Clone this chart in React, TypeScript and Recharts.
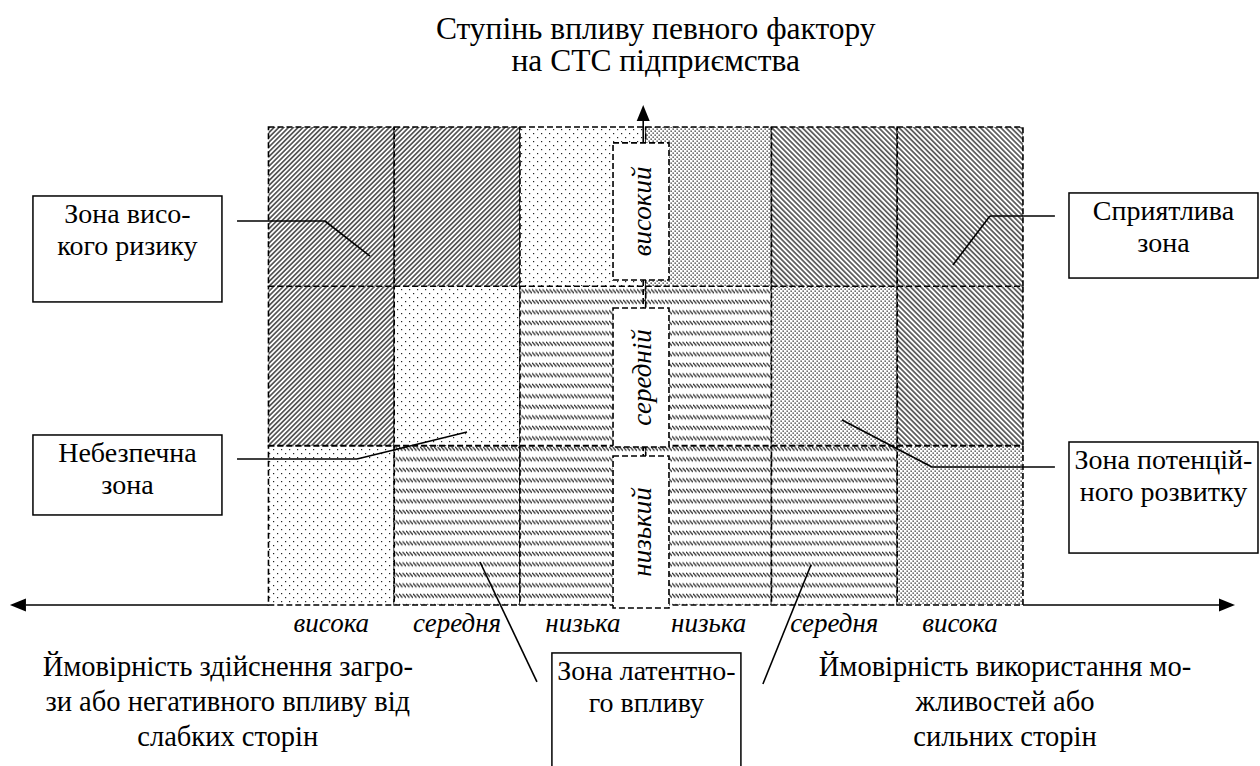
import React from "react";
import {
  ComposedChart,
  XAxis,
  YAxis,
  ReferenceArea,
  ReferenceLine,
  Scatter,
} from "recharts";

// Grid units: one column = 1 on x, one influence level = 1 on y.
const COLUMN_LABELS = ["висока", "середня", "низька", "низька", "середня", "висока"];
const LEVEL_LABELS = ["низький", "середній", "високий"]; // bottom -> top

const ZONE_ROW_LOW = ["danger", "latent", "latent", "latent", "latent", "potential"];
const ZONE_ROW_MID = ["risk", "danger", "latent", "latent", "potential", "favour"];
const ZONE_ROW_HIGH = ["risk", "risk", "danger", "potential", "favour", "favour"];
const ZONE_ROWS = [ZONE_ROW_LOW, ZONE_ROW_MID, ZONE_ROW_HIGH];

const RISK_TEXT = ["Зона висо-", "кого ризику"];
const DANGER_TEXT = ["Небезпечна", "зона"];
const FAVOUR_TEXT = ["Сприятлива", "зона"];
const POTENTIAL_TEXT = ["Зона потенцій-", "ного розвитку"];
const LATENT_TEXT = ["Зона латентно-", "го впливу"];

const TITLE_LINES = ["Ступінь впливу певного фактору", "на СТС підприємства"];
const LEFT_AXIS_TEXT = [
  "Ймовірність здійснення загро-",
  "зи або негативного впливу від",
  "слабких сторін",
];
const RIGHT_AXIS_TEXT = ["Ймовірність використання мо-", "жливостей або", "сильних сторін"];

const W = 1260;
const H = 766;
const X_DOMAIN: [number, number] = [-2.135, 7.885];
const Y_DOMAIN: [number, number] = [-1.0105, 3.797];
const FONT = "'Liberation Serif', 'Times New Roman', serif";

const FILL_OF: Record<string, string> = {
  risk: "url(#hatchFwd)",
  favour: "url(#hatchBack)",
  danger: "url(#dotsSparse)",
  potential: "url(#dotsDense)",
  latent: "url(#bands)",
};

type Pt = [number, number];

// callout boxes [x1, yTop, x2, yBottom] and their leader polylines
const CALLOUTS: { lines: string[]; box: [number, number, number, number]; leaders: Pt[][] }[] = [
  { lines: RISK_TEXT, box: [-1.873, 2.567, -0.37, 1.902], leaders: [[[-0.25, 2.41], [0.449, 2.41], [0.807, 2.19]]] },
  { lines: DANGER_TEXT, box: [-1.873, 1.067, -0.37, 0.565], leaders: [[[-0.25, 0.916], [0.704, 0.916], [1.579, 1.086]]] },
  { lines: FAVOUR_TEXT, box: [6.366, 2.586, 7.869, 2.052], leaders: [[[6.254, 2.441], [5.737, 2.441], [5.443, 2.134]]] },
  { lines: POTENTIAL_TEXT, box: [6.366, 1.023, 7.869, 0.326], leaders: [[[6.254, 0.866], [5.276, 0.866], [4.561, 1.161]]] },
  {
    lines: LATENT_TEXT,
    box: [2.254, -0.301, 3.757, -1.06],
    leaders: [
      [[1.682, 0.27], [2.135, -0.483]],
      [[4.314, 0.251], [3.932, -0.496]],
    ],
  },
];

// dashed boxes carrying the level names on the vertical axis (bottom -> top)
const LEVEL_BOX_X: [number, number] = [2.74, 3.185];
const LEVEL_BOX_Y: [number, number][] = [
  [-0.019, 0.935],
  [0.992, 1.864],
  [2.04, 2.9],
];
const V_AXIS_X = 2.98;

const cells = ZONE_ROWS.flatMap((row, r) => row.map((zone, c) => ({ c, r, zone })));
const columnPoints = COLUMN_LABELS.map((label, i) => ({ x: i + 0.5, y: -0.169, label }));

const textBlock =
  (lines: string[], drawBox: boolean, size = 28, first = 27, step = 32) =>
  (p: any) => {
    const { x, y, width, height } = p;
    return (
      <g>
        {drawBox && (
          <rect x={x} y={y} width={width} height={height} fill="#fff" stroke="#000" strokeWidth={1.5} />
        )}
        <text fontFamily={FONT} fontSize={size} fill="#000" textAnchor="middle">
          {lines.map((l, i) => (
            <tspan key={i} x={x + width / 2} y={y + first + i * step}>
              {l}
            </tspan>
          ))}
        </text>
      </g>
    );
  };

const levelBox = (label: string) => (p: any) => {
  const { x, y, width, height } = p;
  const cx = x + width / 2;
  const cy = y + height / 2;
  return (
    <g>
      <rect x={x} y={y} width={width} height={height} fill="#fff" stroke="#000" strokeWidth={1.6} strokeDasharray="6 3" />
      <text
        x={cx}
        y={cy + 10}
        transform={`rotate(-90 ${cx} ${cy})`}
        textAnchor="middle"
        fontFamily={FONT}
        fontStyle="italic"
        fontSize={27}
        fill="#000"
      >
        {label}
      </text>
    </g>
  );
};

const arrowShape = (p: any) => {
  const { x1, y1, x2, y2 } = p;
  const a = Math.atan2(y2 - y1, x2 - x1);
  const L = 16;
  const hw = 6.5;
  const bx = x2 - Math.cos(a) * L;
  const by = y2 - Math.sin(a) * L;
  const nx = -Math.sin(a) * hw;
  const ny = Math.cos(a) * hw;
  return (
    <g>
      <line x1={x1} y1={y1} x2={bx} y2={by} stroke="#000" strokeWidth={1.6} />
      <polygon points={`${x2},${y2} ${bx + nx},${by + ny} ${bx - nx},${by - ny}`} fill="#000" />
    </g>
  );
};

const columnLabel = (p: any) => {
  const label = p.payload?.label ?? p.label;
  return (
    <text x={p.cx} y={p.cy} textAnchor="middle" fontFamily={FONT} fontStyle="italic" fontSize={27} fill="#000">
      {label}
    </text>
  );
};

function Patterns() {
  return (
    <svg width={0} height={0} style={{ position: "absolute" }}>
      <defs>
        <pattern id="hatchFwd" patternUnits="userSpaceOnUse" width={3.4} height={3.4} patternTransform="rotate(45)">
          <rect width={3.4} height={3.4} fill="#fff" />
          <line x1={1.7} y1={0} x2={1.7} y2={3.4} stroke="#222" strokeWidth={1.3} />
        </pattern>
        <pattern id="hatchBack" patternUnits="userSpaceOnUse" width={3.6} height={3.6} patternTransform="rotate(-45)">
          <rect width={3.6} height={3.6} fill="#fff" />
          <line x1={1.8} y1={0} x2={1.8} y2={3.6} stroke="#222" strokeWidth={1.3} />
        </pattern>
        <pattern id="dotsSparse" patternUnits="userSpaceOnUse" width={8} height={8}>
          <rect width={8} height={8} fill="#fff" />
          <rect x={1} y={1} width={1.2} height={1.2} fill="#222" />
          <rect x={5} y={5} width={1.2} height={1.2} fill="#222" />
        </pattern>
        <pattern id="dotsDense" patternUnits="userSpaceOnUse" width={4} height={4}>
          <rect width={4} height={4} fill="#fff" />
          <rect x={0.5} y={0.5} width={1.3} height={1.3} fill="#222" />
          <rect x={2.5} y={2.5} width={1.3} height={1.3} fill="#222" />
        </pattern>
        <pattern id="bands" patternUnits="userSpaceOnUse" width={3.5} height={10.5} y={446}>
          <rect width={3.5} height={10.5} fill="#fff" />
          <line x1={0} y1={0.8} x2={3.5} y2={4.8} stroke="#222" strokeWidth={1.3} />
        </pattern>
      </defs>
    </svg>
  );
}

export default function App() {
  return (
    <div style={{ position: "absolute", left: 0, top: 0, width: W, height: H, background: "#fff" }}>
      <Patterns />
      <ComposedChart width={W} height={H} margin={{ top: 0, right: 0, bottom: 0, left: 0 }}>
        <XAxis type="number" dataKey="x" domain={X_DOMAIN} allowDataOverflow hide />
        <YAxis type="number" dataKey="y" domain={Y_DOMAIN} allowDataOverflow hide />

        {cells.map(({ c, r, zone }) => (
          <ReferenceArea
            key={`cell-${c}-${r}`}
            x1={c}
            x2={c + 1}
            y1={r}
            y2={r + 1}
            ifOverflow="visible"
            fill={FILL_OF[zone]}
            fillOpacity={1}
            stroke="#000"
            strokeWidth={1.6}
            strokeDasharray="6 3"
          />
        ))}

        {LEVEL_BOX_Y.map(([y1, y2], i) => (
          <ReferenceArea
            key={`level-${i}`}
            x1={LEVEL_BOX_X[0]}
            x2={LEVEL_BOX_X[1]}
            y1={y1}
            y2={y2}
            ifOverflow="visible"
            shape={levelBox(LEVEL_LABELS[i])}
          />
        ))}

        {CALLOUTS.map((co, i) => (
          <ReferenceArea
            key={`box-${i}`}
            x1={co.box[0]}
            x2={co.box[2]}
            y1={co.box[3]}
            y2={co.box[1]}
            ifOverflow="visible"
            shape={textBlock(co.lines, true)}
          />
        ))}

        {CALLOUTS.flatMap((co, i) =>
          co.leaders.flatMap((poly, j) =>
            poly.slice(1).map((pt, k) => (
              <ReferenceLine
                key={`lead-${i}-${j}-${k}`}
                segment={[
                  { x: poly[k][0], y: poly[k][1] },
                  { x: pt[0], y: pt[1] },
                ]}
                ifOverflow="visible"
                stroke="#000"
                strokeWidth={1.6}
              />
            ))
          )
        )}

        {/* level-box connectors */}
        <ReferenceLine
          segment={[{ x: V_AXIS_X, y: LEVEL_BOX_Y[2][0] }, { x: V_AXIS_X, y: LEVEL_BOX_Y[1][1] }]}
          ifOverflow="visible"
          stroke="#000"
          strokeWidth={1.6}
          strokeDasharray="6 3"
        />
        <ReferenceLine
          segment={[{ x: V_AXIS_X, y: LEVEL_BOX_Y[1][0] }, { x: V_AXIS_X, y: LEVEL_BOX_Y[0][1] }]}
          ifOverflow="visible"
          stroke="#000"
          strokeWidth={1.6}
          strokeDasharray="4 3"
        />

        {/* axes with arrowheads */}
        <ReferenceLine segment={[{ x: 0, y: 0 }, { x: -2.056, y: 0 }]} ifOverflow="visible" shape={arrowShape} />
        <ReferenceLine segment={[{ x: 6, y: 0 }, { x: 7.686, y: 0 }]} ifOverflow="visible" shape={arrowShape} />
        <ReferenceLine
          segment={[{ x: V_AXIS_X, y: LEVEL_BOX_Y[2][1] }, { x: V_AXIS_X, y: 3.138 }]}
          ifOverflow="visible"
          shape={arrowShape}
        />

        {/* titles */}
        <ReferenceArea x1={1.29} x2={4.87} y1={3.35} y2={3.722} ifOverflow="visible" shape={textBlock(TITLE_LINES, false, 31.5, 27, 32)} />
        <ReferenceArea x1={-1.897} x2={1.25} y1={-1.0} y2={-0.282} ifOverflow="visible" shape={textBlock(LEFT_AXIS_TEXT, false, 28.5, 26, 35)} />
        <ReferenceArea x1={4.386} x2={7.328} y1={-1.0} y2={-0.282} ifOverflow="visible" shape={textBlock(RIGHT_AXIS_TEXT, false, 28.5, 26, 35)} />

        <Scatter data={columnPoints} isAnimationActive={false} shape={columnLabel} />
      </ComposedChart>
    </div>
  );
}
